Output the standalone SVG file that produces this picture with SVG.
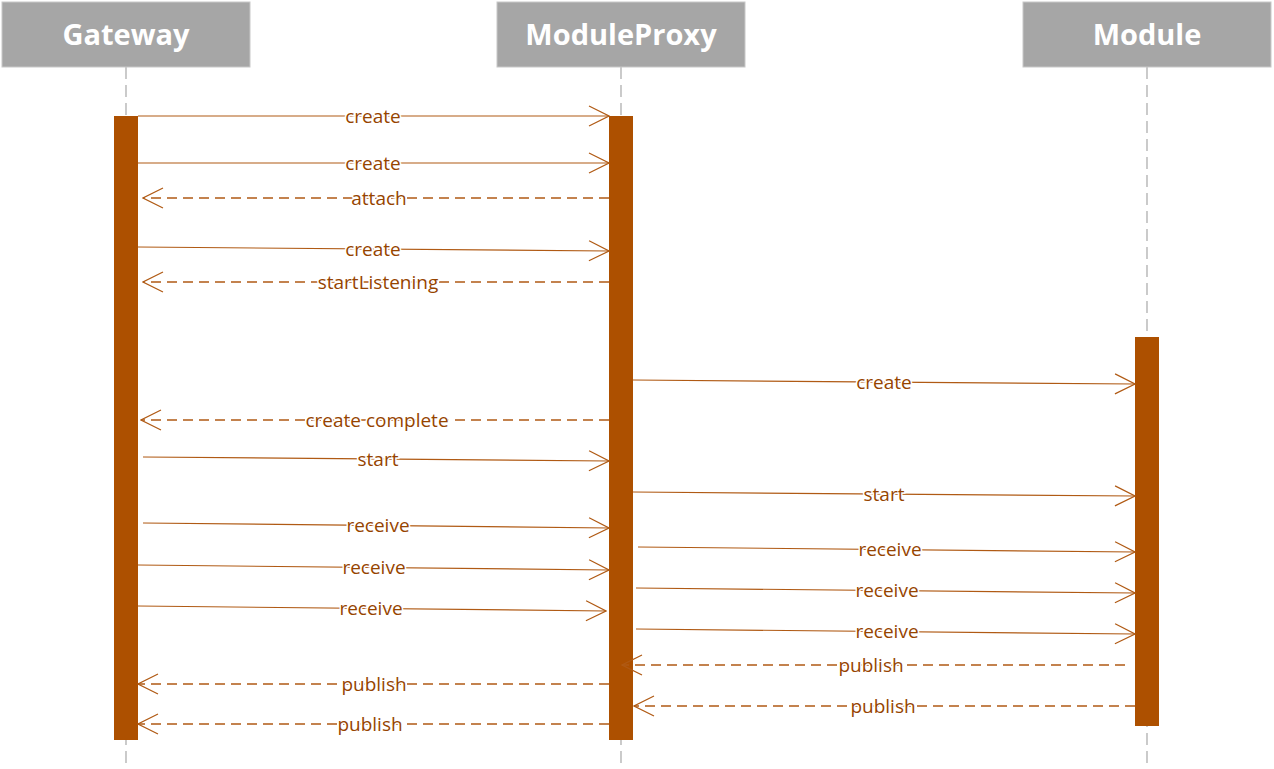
<svg xmlns="http://www.w3.org/2000/svg" width="1274" height="769" viewBox="0 0 1274 769">
<style>
.hdr{fill:#a6a6a6;stroke:#c8c8c8;stroke-width:1}
.hdrt{font-family:"Open Sans","Liberation Sans",sans-serif;font-weight:bold;font-size:29px;fill:#ffffff;text-anchor:middle}
.life{stroke:#a8a8a8;stroke-width:1.2;stroke-dasharray:12 6;fill:none}
.act{fill:#ad5000}
.msg{stroke:#b05a14;stroke-width:1.2;fill:none}
.ret{stroke:#b05a14;stroke-width:1.3;fill:none;stroke-dasharray:10 6}
.lbl{font-family:"Open Sans","Liberation Sans",sans-serif;font-size:19px;fill:#964400;text-anchor:middle;stroke:#ffffff;stroke-width:3;paint-order:stroke}
</style>
<defs>
<marker id="arr" viewBox="0 0 22 22" refX="21" refY="11" markerWidth="22" markerHeight="22" markerUnits="userSpaceOnUse" orient="auto">
<path d="M1,1 L21,11 L1,21" fill="none" stroke="#b05a14" stroke-width="1.2"/>
</marker>
</defs>
<rect width="1274" height="769" fill="#ffffff"/>
<g id="lifelines">
<line class="life" x1="126" y1="67" x2="126" y2="769"/>
<line class="life" x1="621" y1="67" x2="621" y2="769"/>
<line class="life" x1="1147" y1="67" x2="1147" y2="769"/>
</g>
<g id="gateway">
<rect class="hdr" x="2" y="2" width="248" height="65"/>
<text class="hdrt" x="126" y="45">Gateway</text>
<rect class="act" x="114" y="116" width="24" height="624"/>
</g>
<g id="moduleproxy">
<rect class="hdr" x="497" y="2" width="248" height="65"/>
<text class="hdrt" x="621" y="45">ModuleProxy</text>
<rect class="act" x="609" y="116" width="24" height="624"/>
</g>
<g id="module">
<rect class="hdr" x="1023" y="2" width="248" height="65"/>
<text class="hdrt" x="1147" y="45">Module</text>
<rect class="act" x="1135" y="337" width="24" height="389"/>
</g>
<g id="connectors">
<path class="msg" d="M138,116 L609,116" marker-end="url(#arr)"/>
<text class="lbl" x="373" y="123">create</text>
<path class="msg" d="M138,163 L609,163" marker-end="url(#arr)"/>
<text class="lbl" x="373" y="170">create</text>
<path class="ret" d="M609,198 L143,198" marker-end="url(#arr)"/>
<text class="lbl" x="379" y="205">attach</text>
<path class="msg" d="M138,247 L609,251" marker-end="url(#arr)"/>
<text class="lbl" x="373" y="256">create</text>
<path class="ret" d="M609,282 L143,282" marker-end="url(#arr)"/>
<text class="lbl" x="378" y="289">startListening</text>
<path class="msg" d="M633,380 L1135,384" marker-end="url(#arr)"/>
<text class="lbl" x="884" y="389">create</text>
<path class="ret" d="M609,420 L141,420" marker-end="url(#arr)"/>
<text class="lbl" x="377" y="427">create complete</text>
<path class="msg" d="M143,457 L609,461" marker-end="url(#arr)"/>
<text class="lbl" x="378" y="466">start</text>
<path class="msg" d="M633,492 L1135,496" marker-end="url(#arr)"/>
<text class="lbl" x="884" y="501">start</text>
<path class="msg" d="M143,523 L609,528" marker-end="url(#arr)"/>
<text class="lbl" x="378" y="532">receive</text>
<path class="msg" d="M638,547 L1135,552" marker-end="url(#arr)"/>
<text class="lbl" x="890" y="556">receive</text>
<path class="msg" d="M138,565 L609,570" marker-end="url(#arr)"/>
<text class="lbl" x="374" y="574">receive</text>
<path class="msg" d="M636,588 L1135,593" marker-end="url(#arr)"/>
<text class="lbl" x="887" y="597">receive</text>
<path class="msg" d="M138,606 L606,611" marker-end="url(#arr)"/>
<text class="lbl" x="371" y="615">receive</text>
<path class="msg" d="M636,629 L1135,634" marker-end="url(#arr)"/>
<text class="lbl" x="887" y="638">receive</text>
<path class="ret" d="M1125,665 L622,665" marker-end="url(#arr)"/>
<text class="lbl" x="871" y="672">publish</text>
<path class="ret" d="M609,684 L138,684" marker-end="url(#arr)"/>
<text class="lbl" x="374" y="691">publish</text>
<path class="ret" d="M1135,706 L634,706" marker-end="url(#arr)"/>
<text class="lbl" x="883" y="713">publish</text>
<path class="ret" d="M609,724 L138,724" marker-end="url(#arr)"/>
<text class="lbl" x="370" y="731">publish</text>
</g>
</svg>
